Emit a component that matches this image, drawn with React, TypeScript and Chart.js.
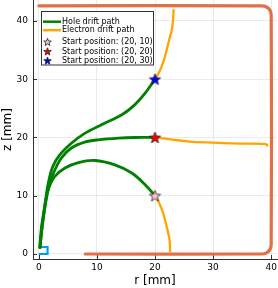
import React, { useEffect, useRef } from "react";
import { Chart, registerables } from "chart.js";
Chart.register(...registerables);

const xTicks = [0, 10, 20, 30, 40];
const yTicks = [0, 10, 20, 30, 40];

const detectorR = [8, 38.4, 39.2, 39.75, 40, 40, 39.75, 39.2, 38.4, 0];
const detectorZ = [0, 0, 0.2, 0.7, 1.6, 41, 41.9, 42.4, 42.6, 42.6];

const contactR = [0, 1.5, 1.5, 0];
const contactZ = [1.2, 1.2, 0, 0];

const hole10R = [20, 18.3, 16, 13.1, 9.65, 6.8, 4.5, 2.75, 1.6, 1.03, 0.47, 0.2, 0.2];
const hole10Z = [10, 11.9, 13.9, 15.3, 16.05, 15.7, 14.75, 13.3, 11, 8.2, 4.7, 1.6, 1.1];

const hole20R = [20, 16.6, 13.7, 10.2, 7.9, 5.6, 3.9, 2.8, 2.0, 1.4, 0.9, 0.55, 0.25, 0.2];
const hole20Z = [20, 20, 19.9, 19.6, 19.2, 18.2, 16.5, 14.5, 12.5, 10, 7, 4.5, 1.6, 1.1];

const hole30R = [20, 18.3, 16.5, 14.3, 10.8, 7.9, 5.6, 3.6, 2.4, 1.7, 1.2, 0.8, 0.5, 0.25, 0.2];
const hole30Z = [30, 27.6, 25.6, 23.9, 22.2, 20.7, 19.0, 17.0, 15, 12.5, 9.5, 6.5, 4, 1.6, 1.1];

const elec10R = [20, 20.6, 21.4, 22.0, 22.5, 22.6];
const elec10Z = [10, 9.0, 7.0, 4.7, 2.45, 0.4];

const elec20R = [20, 21, 23.2, 26, 28.9, 34.7, 38.5, 39.3, 39.3];
const elec20Z = [20, 19.9, 19.6, 19.3, 19.15, 18.95, 18.9, 18.8, 18.6];

const elec30R = [20, 20.9, 21.6, 22.0, 22.5, 22.9, 23.1, 23.2];
const elec30Z = [30, 31.6, 33.5, 35, 37, 38.5, 40, 41.9];

const startR = [20, 20, 20];
const startZ = [10, 20, 30];
const startColors = ["#FFC0CB", "#FF0000", "#0000FF"];
const startLabels = ["Start position: (20, 10)", "Start position: (20, 20)", "Start position: (20, 30)"];

const holeLabel = "Hole drift path";
const elecLabel = "Electron drift path";
const xTitle = "r [mm]";
const yTitle = "z [mm]";

const GREEN = "#008000";
const ORANGE = "#FFA500";
const DETECTOR = "#E26F46";
const CONTACT = "#009AFA";
const FONT = "'DejaVu Sans', sans-serif";

function pts(rs: number[], zs: number[]) {
  return rs.map((r, i) => ({ x: r, y: zs[i] }));
}

function drawStar(ctx: CanvasRenderingContext2D, cx: number, cy: number, R: number, fill: string) {
  const r = R * 0.42;
  ctx.beginPath();
  for (let i = 0; i < 10; i++) {
    const rad = i % 2 === 0 ? R : r;
    const a = -Math.PI / 2 + (i * Math.PI) / 5;
    const px = cx + rad * Math.cos(a);
    const py = cy + rad * Math.sin(a);
    if (i === 0) ctx.moveTo(px, py);
    else ctx.lineTo(px, py);
  }
  ctx.closePath();
  ctx.fillStyle = fill;
  ctx.fill();
  ctx.strokeStyle = "#222";
  ctx.lineWidth = 0.8;
  ctx.stroke();
}

function starImage(fill: string, R: number) {
  const c = document.createElement("canvas");
  const s = Math.ceil(R * 2 + 3);
  c.width = s;
  c.height = s;
  const ctx = c.getContext("2d")!;
  drawStar(ctx, s / 2, s / 2 + 0.5, R, fill);
  return c;
}

function zeroPad(scale: any) {
  scale.paddingTop = 0;
  scale.paddingBottom = 0;
  scale.paddingLeft = 0;
  scale.paddingRight = 0;
}

export default function App() {
  const ref = useRef<HTMLCanvasElement | null>(null);

  useEffect(() => {
    document.body.style.margin = "0";
    const canvas = ref.current;
    if (!canvas) return;

    const lineDs = (data: any[], color: string, width: number) => ({
      data,
      showLine: true,
      borderColor: color,
      backgroundColor: color,
      borderWidth: width,
      pointRadius: 0,
      pointHoverRadius: 0,
      tension: 0.35,
      fill: false,
      borderCapStyle: "round" as const,
      borderJoinStyle: "round" as const,
    });

    const starDs = startR.map((r, i) => ({
      data: [{ x: r, y: startZ[i] }],
      showLine: false,
      pointStyle: starImage(startColors[i], 6),
      pointRadius: 6,
      backgroundColor: startColors[i],
      borderColor: "#000",
    }));

    const datasets: any[] = [
      ...starDs.slice().reverse(),
      lineDs(pts(elec30R, elec30Z), ORANGE, 2.3),
      lineDs(pts(elec20R, elec20Z), ORANGE, 2.3),
      lineDs(pts(elec10R, elec10Z), ORANGE, 2.3),
      lineDs(pts(hole30R, hole30Z), GREEN, 2.8),
      lineDs(pts(hole20R, hole20Z), GREEN, 2.8),
      lineDs(pts(hole10R, hole10Z), GREEN, 2.8),
      { ...lineDs(pts(contactR, contactZ), CONTACT, 2.2), tension: 0, borderCapStyle: "butt", borderJoinStyle: "miter" },
      { ...lineDs(pts(detectorR, detectorZ), DETECTOR, 3.2), tension: 0.3 },
    ];

    const innerTicks = {
      id: "innerTicks",
      beforeDatasetsDraw(chart: any) {
        const { ctx, chartArea, scales } = chart;
        ctx.save();
        ctx.strokeStyle = "#333";
        ctx.lineWidth = 1;
        ctx.beginPath();
        xTicks.forEach((t) => {
          const px = Math.round(scales.x.getPixelForValue(t)) + 0.5;
          ctx.moveTo(px, chartArea.bottom);
          ctx.lineTo(px, chartArea.bottom - 4);
        });
        yTicks.forEach((t) => {
          const py = Math.round(scales.y.getPixelForValue(t)) + 0.5;
          ctx.moveTo(chartArea.left, py);
          ctx.lineTo(chartArea.left + 4, py);
        });
        ctx.stroke();
        ctx.restore();
      },
    };

    const legendPlugin = {
      id: "boxLegend",
      afterDraw(chart: any) {
        const { ctx } = chart;
        ctx.save();
        const bx = 41.5, by = 11.5, bw = 112, bh = 53.5;
        ctx.fillStyle = "#fff";
        ctx.fillRect(bx, by, bw, bh);
        ctx.strokeStyle = "#333";
        ctx.lineWidth = 1;
        ctx.strokeRect(bx, by, bw, bh);
        ctx.font = `8px ${FONT}`;
        ctx.textBaseline = "middle";
        ctx.textAlign = "left";
        const tx = 62;
        const rows = [21.7, 30.2, 42, 51.5, 60.7];
        ctx.lineCap = "butt";
        ctx.lineWidth = 2.5;
        ctx.strokeStyle = GREEN;
        ctx.beginPath();
        ctx.moveTo(43, rows[0]);
        ctx.lineTo(61, rows[0]);
        ctx.stroke();
        ctx.strokeStyle = ORANGE;
        ctx.beginPath();
        ctx.moveTo(43, rows[1]);
        ctx.lineTo(61, rows[1]);
        ctx.stroke();
        ctx.fillStyle = "#000";
        ctx.fillText(holeLabel, tx, rows[0]);
        ctx.fillText(elecLabel, tx, rows[1]);
        startLabels.forEach((lab, i) => {
          drawStar(ctx, 47.5, rows[2 + i] + 0.3, 4, startColors[i]);
          ctx.fillStyle = "#000";
          ctx.fillText(lab, tx, rows[2 + i]);
        });
        ctx.restore();
      },
    };

    const chart = new Chart(canvas, {
      type: "scatter",
      data: { datasets },
      options: {
        animation: false,
        responsive: false,
        maintainAspectRatio: false,
        devicePixelRatio: 1,
        layout: { autoPadding: false, padding: { left: 0, right: 1, top: 0, bottom: 0 } },
        plugins: {
          legend: { display: false },
          tooltip: { enabled: false },
        },
        scales: {
          x: {
            type: "linear",
            min: -1,
            max: 41,
            afterBuildTicks: (scale: any) => {
              scale.ticks = xTicks.map((v) => ({ value: v }));
            },
            afterFit: (scale: any) => {
              scale.height = 29;
              zeroPad(scale);
            },
            grid: { color: "rgba(0,0,0,0.08)", drawTicks: false },
            border: { display: true, color: "#333", width: 1 },
            ticks: {
              font: { family: FONT, size: 9 },
              color: "#000",
              padding: 3,
              maxRotation: 0,
            },
            title: {
              display: true,
              text: xTitle,
              font: { family: FONT, size: 12 },
              color: "#000",
              padding: 0,
            },
          },
          y: {
            type: "linear",
            min: -0.86,
            max: 43.6,
            afterBuildTicks: (scale: any) => {
              scale.ticks = yTicks.map((v) => ({ value: v }));
            },
            afterFit: (scale: any) => {
              scale.width = 33;
              zeroPad(scale);
            },
            grid: { color: "rgba(0,0,0,0.08)", drawTicks: false },
            border: { display: true, color: "#333", width: 1 },
            ticks: {
              font: { family: FONT, size: 9 },
              color: "#000",
              padding: 5,
            },
            title: {
              display: true,
              text: yTitle,
              font: { family: FONT, size: 12 },
              color: "#000",
              padding: { top: 1, bottom: 0 },
            },
          },
        },
      },
      plugins: [innerTicks, legendPlugin],
    } as any);

    return () => chart.destroy();
  }, []);

  return (
    <div style={{ width: 278, height: 288, position: "relative" }}>
      <canvas ref={ref} width={278} height={288} style={{ display: "block" }} />
    </div>
  );
}
